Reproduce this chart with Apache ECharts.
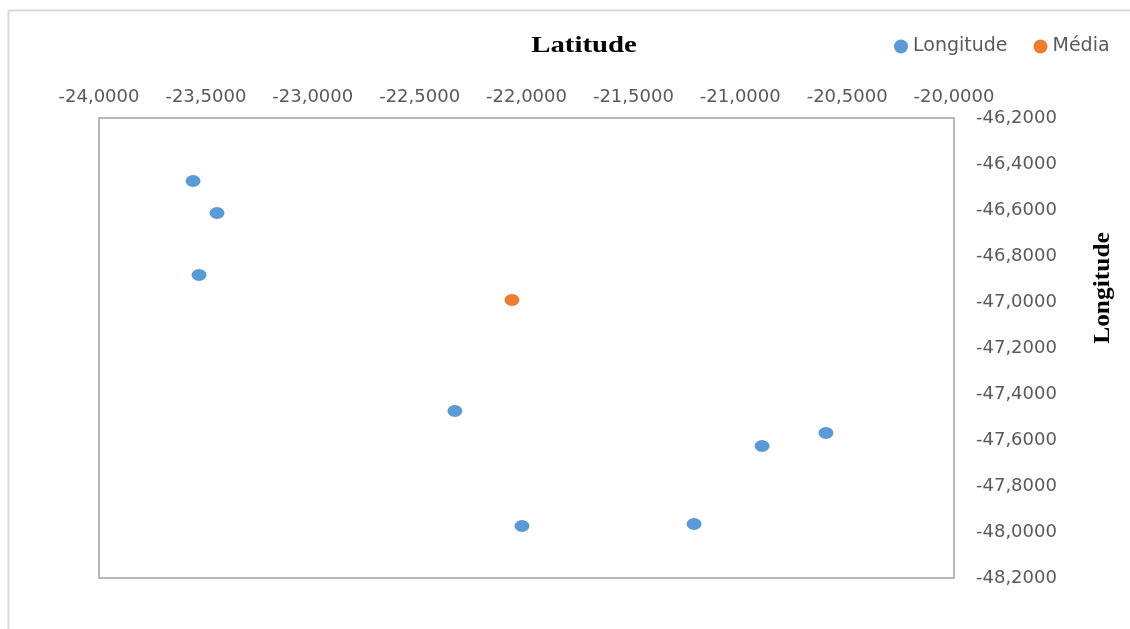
<!DOCTYPE html>
<html>
<head>
<meta charset="utf-8">
<script src="https://cdn.jsdelivr.net/npm/echarts@6/dist/echarts.min.js"></script>
<style>
  html, body { margin: 0; padding: 0; background: #ffffff; }
  #chart { width: 1130px; height: 629px; }
</style>
</head>
<body>
<div id="chart"></div>
<script>
// Sample points: [latitude, longitude]
const longitudePoints = [
  [-23.560, -46.474],
  [-23.448, -46.613],
  [-23.532, -46.883],
  [-22.335, -47.474],
  [-22.021, -47.974],
  [-21.216, -47.965],
  [-20.898, -47.626],
  [-20.599, -47.570]
];
// Mean location
const mediaPoints = [
  [-22.068, -46.991]
];

const seriesNames = ['Longitude', 'Média'];
const seriesColors = ['#5b9bd5', '#ed7d31'];
const xTitle = 'Latitude';
const yTitle = 'Longitude';

// Axis ranges and tick steps
const xMin = -24, xMax = -20, xStep = 0.5;
const yMin = -48.2, yMax = -46.2, yStep = 0.2;

const fmt = v => v.toFixed(4).replace('.', ',');
const labelFont = { color: '#595959', fontSize: 18, fontFamily: 'DejaVu Sans' };
const nameFont = { fontFamily: 'Liberation Serif', fontWeight: 'bold', fontSize: 24, fill: '#000000' };

const chart = echarts.init(document.getElementById('chart'), null, { renderer: 'canvas' });

chart.setOption({
  animation: false,
  backgroundColor: '#ffffff',
  legend: {
    left: 889,
    top: 32,
    icon: 'circle',
    itemWidth: 14,
    itemHeight: 14,
    itemGap: 26,
    textStyle: { color: '#595959', fontSize: 19, fontFamily: 'DejaVu Sans' },
    data: seriesNames
  },
  graphic: [
    {
      type: 'rect',
      shape: { x: 8.5, y: 10.5, width: 1300, height: 800 },
      style: { fill: 'none', stroke: '#d9d9d9', lineWidth: 2 },
      silent: true,
      z: -1
    },
    {
      // horizontal axis title, placed above the top tick labels
      type: 'text',
      x: 584,
      y: 46,
      scaleX: 1.2,
      style: Object.assign({ text: xTitle, textAlign: 'center', textVerticalAlign: 'middle' }, nameFont),
      silent: true
    },
    {
      // vertical axis title, to the right of the right-hand tick labels
      type: 'text',
      x: 1103,
      y: 288,
      rotation: Math.PI / 2,
      scaleX: 1.06,
      style: Object.assign({ text: yTitle, textAlign: 'center', textVerticalAlign: 'middle' }, nameFont),
      silent: true
    }
  ],
  grid: {
    left: 99,
    right: 176,
    top: 118,
    bottom: 51,
    show: true,
    borderColor: '#b7b7b7',
    borderWidth: 2,
    backgroundColor: 'transparent'
  },
  xAxis: {
    type: 'value',
    position: 'top',
    min: xMin,
    max: xMax,
    interval: xStep,
    axisLine: { show: false },
    axisTick: { show: false },
    splitLine: { show: false },
    axisLabel: Object.assign({ margin: 12, formatter: fmt }, labelFont)
  },
  yAxis: {
    type: 'value',
    position: 'right',
    min: yMin,
    max: yMax,
    interval: yStep,
    axisLine: { show: false },
    axisTick: { show: false },
    splitLine: { show: false },
    axisLabel: Object.assign({ margin: 22, formatter: fmt }, labelFont)
  },
  series: [
    {
      name: seriesNames[0],
      type: 'scatter',
      data: longitudePoints,
      symbol: 'circle',
      symbolSize: [15, 12],
      itemStyle: { color: seriesColors[0], opacity: 1 }
    },
    {
      name: seriesNames[1],
      type: 'scatter',
      data: mediaPoints,
      symbol: 'circle',
      symbolSize: [15, 12],
      itemStyle: { color: seriesColors[1], opacity: 1 }
    }
  ]
});
</script>
</body>
</html>
